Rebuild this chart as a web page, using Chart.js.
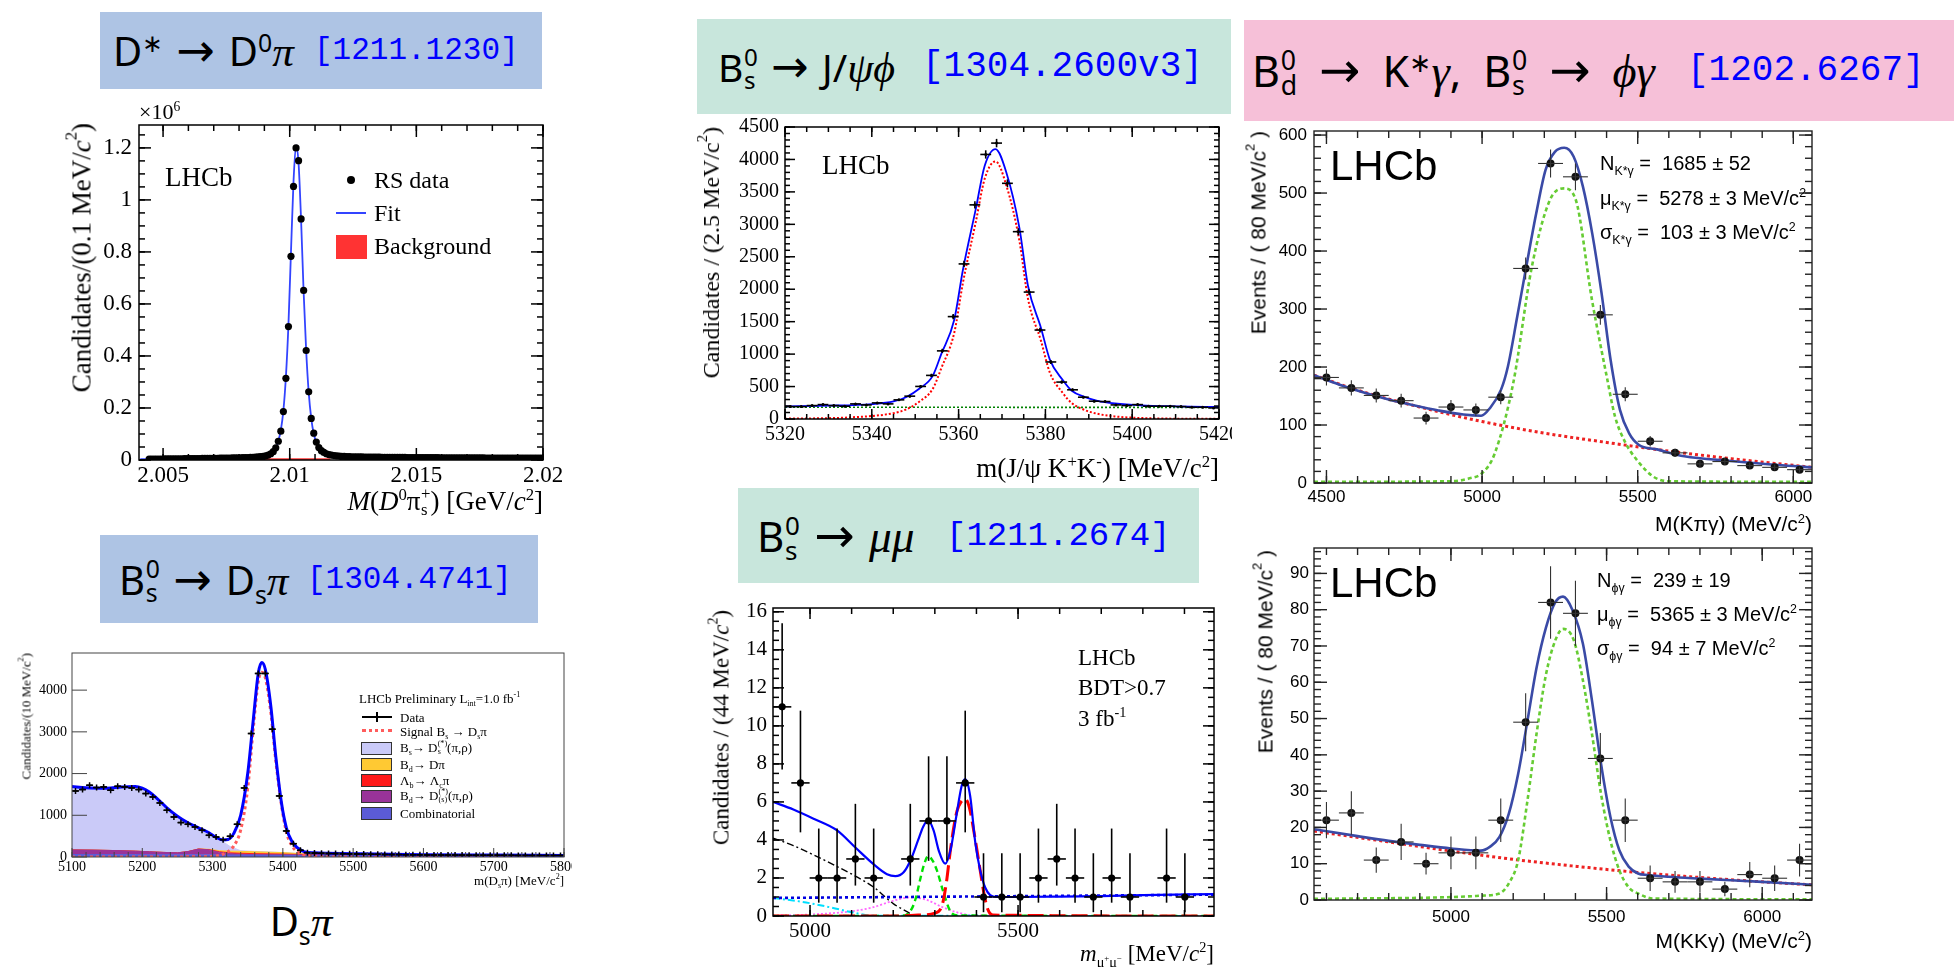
<!DOCTYPE html>
<html>
<head>
<meta charset="utf-8">
<script src="https://cdn.jsdelivr.net/npm/chart.js@4.4.0/dist/chart.umd.min.js"></script>
<style>
  body { margin: 0; background: #fff; }
  #page { position: relative; width: 1954px; height: 967px; overflow: hidden; font-family: 'Liberation Serif', serif; }
  canvas { position: absolute; }
  .tb { position: absolute; }
  .tb > span { position: absolute; top: 0; bottom: 0; display: flex; align-items: center; }
  .tb > span > span { display: block; white-space: pre; }
  .tm { font-family: 'Noto Sans', 'DejaVu Sans', sans-serif; color: #000; word-spacing: 0.08em; }
  .tr { font-family: 'Liberation Mono', monospace; color: #0000ff; }
  .gk { font-family: 'Liberation Serif', 'DejaVu Serif', serif; font-style: italic; font-size: 1.08em; }
  .ar { font-family: 'DejaVu Sans', sans-serif; font-size: 1.15em; line-height: 0; }
  .ss { display: inline-flex; flex-direction: column; font-size: 0.62em; line-height: 0.95; vertical-align: 0.65em; margin-left: 0.03em; }
  .t { position: absolute; white-space: nowrap; line-height: 1; }
  .vt { writing-mode: vertical-rl; }
  sup, sub { font-size: 0.62em; line-height: 0; }
  .sym { position: absolute; }
</style>
</head>
<body>
<div id="page">
  <div class="tb" style="left:100px;top:12px;width:442px;height:77px;background:#aec4e4">
    <span class="tm" style="left:13px;font-size:40px"><span>D<sup>∗</sup> <span class="ar">→</span> D<sup>0</sup><span class="gk">π</span></span></span>
    <span class="tr" style="left:214px;font-size:31px"><span>[1211.1230]</span></span>
  </div>
  <div class="tb" style="left:100px;top:535px;width:438px;height:88px;background:#aec4e4">
    <span class="tm" style="left:19px;font-size:40px"><span>B<span class="ss"><span>0</span><span>s</span></span> <span class="ar">→</span> D<sub>s</sub><span class="gk">π</span></span></span>
    <span class="tr" style="left:207px;font-size:31px"><span>[1304.4741]</span></span>
  </div>
  <div class="tb" style="left:697px;top:19px;width:534px;height:95px;background:#c8e6dc">
    <span class="tm" style="left:21px;font-size:39px"><span>B<span class="ss"><span>0</span><span>s</span></span> <span class="ar">→</span> J/<span class="gk">ψϕ</span></span></span>
    <span class="tr" style="left:225px;font-size:36px"><span>[1304.2600v3]</span></span>
  </div>
  <div class="tb" style="left:738px;top:488px;width:461px;height:95px;background:#c8e6dc">
    <span class="tm" style="left:19px;font-size:42px"><span>B<span class="ss"><span>0</span><span>s</span></span> <span class="ar">→</span> <span class="gk">μμ</span></span></span>
    <span class="tr" style="left:208px;font-size:34px"><span>[1211.2674]</span></span>
  </div>
  <div class="tb" style="left:1244px;top:20px;width:710px;height:101px;background:#f6c0d8">
    <span class="tm" style="left:8px;font-size:43px;word-spacing:0.25em"><span>B<span class="ss"><span>0</span><span>d</span></span> <span class="ar">→</span> K<sup>∗</sup><span class="gk">γ</span>, B<span class="ss"><span>0</span><span>s</span></span> <span class="ar">→</span> <span class="gk">ϕγ</span></span></span>
    <span class="tr" style="left:443px;font-size:36px"><span>[1202.6267]</span></span>
  </div>

  <canvas id="dstar"></canvas>
  <canvas id="dspi"></canvas>
  <canvas id="jpsiphi"></canvas>
  <canvas id="mumu"></canvas>
  <canvas id="kstgamma"></canvas>
  <canvas id="phigamma"></canvas>
</div>

<script>
// ---------- D* -> D0 pi (0.1 MeV bins, units of 10^6) ----------
const dstarBinLo = 2.0044;
const dstarBinWidth = 0.0001;
const dstarCounts = [
  0.003, 0.003, 0.003, 0.003, 0.003, 0.003, 0.004, 0.004, 0.004, 0.004,
  0.004, 0.004, 0.004, 0.004, 0.005, 0.005, 0.005, 0.005, 0.005, 0.005,
  0.005, 0.006, 0.006, 0.006, 0.006, 0.006, 0.006, 0.006, 0.007, 0.007,
  0.007, 0.007, 0.007, 0.008, 0.008, 0.008, 0.008, 0.009, 0.009, 0.009,
  0.010,
  0.010, 0.011, 0.012, 0.013, 0.014, 0.016, 0.019, 0.024, 0.032, 0.047,
  0.072, 0.111, 0.186, 0.314, 0.513, 0.783, 1.052, 1.200, 1.151, 0.927,
  0.652, 0.421, 0.262, 0.160, 0.103, 0.069,
  0.048, 0.036, 0.029, 0.024, 0.021, 0.019, 0.017, 0.016, 0.015, 0.014,
  0.014, 0.013, 0.013, 0.012,
  0.012, 0.012, 0.012, 0.012, 0.011, 0.011, 0.011, 0.011, 0.011, 0.011,
  0.011, 0.010, 0.010, 0.010, 0.010, 0.010, 0.010, 0.010, 0.010, 0.010,
  0.010, 0.009, 0.009, 0.009, 0.009, 0.009, 0.009, 0.009, 0.009, 0.009,
  0.009, 0.009, 0.009, 0.009, 0.008, 0.008, 0.008, 0.008, 0.008, 0.008,
  0.008, 0.008, 0.008, 0.008, 0.008, 0.008, 0.008, 0.008, 0.008, 0.008,
  0.008, 0.008, 0.007, 0.007, 0.007, 0.007, 0.007, 0.007, 0.007, 0.007,
  0.007, 0.007, 0.007, 0.007, 0.007, 0.007, 0.007, 0.007, 0.007, 0.007,
  0.007, 0.007, 0.007, 0.007, 0.007
];
const dstarFitMass = [2.0041, 2.006, 2.008, 2.0088, 2.0092, 2.0094, 2.00955, 2.00965, 2.00975, 2.00985, 2.00995, 2.01005, 2.01015, 2.01025, 2.01035, 2.01045, 2.01055, 2.01065, 2.01075, 2.01085, 2.01095, 2.01105, 2.0112, 2.0115, 2.012, 2.014, 2.017, 2.02];
const dstarFitValue = [0.003, 0.005, 0.008, 0.011, 0.02, 0.034, 0.073, 0.115, 0.19, 0.32, 0.52, 0.80, 1.07, 1.21, 1.14, 0.92, 0.645, 0.42, 0.26, 0.16, 0.10, 0.068, 0.042, 0.022, 0.014, 0.010, 0.008, 0.007];
const dstarBkgMass = [2.009, 2.0116];
const dstarBkgValue = [0.002, 0.002];
const dstarXTicks = [2.005, 2.01, 2.015, 2.02];
const dstarYTicks = [0, 0.2, 0.4, 0.6, 0.8, 1, 1.2];

// ---------- Bs -> Ds pi (10 MeV bins) ----------
const dsBinLo = 5100;
const dsBinWidth = 10;
const dsCounts = [
  1584, 1616, 1720, 1664, 1680, 1600, 1696, 1680, 1656, 1616,
  1520, 1440, 1296, 1120, 960, 824, 784, 720, 640, 520,
  480, 416, 496, 784, 1656, 2960, 4400, 4400, 3064, 1464,
  624, 320, 160, 104,
  95, 90, 85, 82, 80, 75, 72, 70, 66, 64, 60, 58, 57, 55, 54, 52, 50, 50,
  48, 47, 46, 45, 44, 44, 42, 42, 40, 40, 39, 38, 38, 37, 36, 36, 35, 35
];
const dsFitMass = [5100, 5120, 5150, 5170, 5190, 5200, 5210, 5220, 5235, 5250, 5265, 5280, 5295, 5305, 5315, 5322, 5330, 5340, 5350, 5358, 5365, 5370, 5375, 5383, 5390, 5398, 5405, 5412, 5420, 5430, 5445, 5500, 5600, 5700, 5800];
const dsFitValue = [1690, 1660, 1650, 1680, 1690, 1650, 1560, 1420, 1180, 980, 820, 700, 580, 470, 410, 420, 560, 1000, 2000, 3300, 4400, 4660, 4500, 3600, 2400, 1300, 700, 400, 230, 130, 100, 80, 55, 45, 38];
const dsSigMass = [5100, 5290, 5310, 5320, 5330, 5340, 5350, 5358, 5365, 5370, 5375, 5383, 5390, 5398, 5405, 5412, 5420, 5430, 5445, 5480, 5800];
const dsSigValue = [0, 5, 40, 110, 260, 650, 1650, 3100, 4200, 4430, 4300, 3450, 2300, 1250, 600, 300, 130, 50, 10, 2, 0];
// stacked background components (cumulative tops)
const dsCompMass = [5100, 5130, 5160, 5190, 5210, 5230, 5250, 5265, 5280, 5295, 5310, 5325, 5340, 5360, 5380, 5400, 5430, 5460, 5500, 5600, 5700, 5800];
const dsCombTop = [60, 59, 58, 57, 56, 55, 54, 53, 52, 51, 50, 49, 48, 47, 46, 45, 43, 41, 39, 35, 32, 30];
const dsBdDsTop = [170, 165, 155, 140, 125, 110, 100, 130, 190, 170, 110, 80, 65, 55, 50, 47, 43, 41, 39, 35, 32, 30];
const dsLbTop = [170, 165, 155, 140, 125, 110, 100, 130, 192, 176, 125, 100, 90, 80, 75, 70, 58, 48, 41, 35, 32, 30];
const dsBdDpiTop = [170, 165, 155, 140, 125, 110, 100, 130, 194, 185, 150, 140, 135, 125, 115, 105, 75, 55, 43, 35, 32, 30];
const dsBsDsTop = [1650, 1645, 1640, 1660, 1540, 1250, 960, 810, 690, 570, 420, 250, 150, 135, 120, 108, 76, 56, 43, 35, 32, 30];
const dsXTicks = [5100, 5200, 5300, 5400, 5500, 5600, 5700, 5800];
const dsYTicks = [0, 1000, 2000, 3000, 4000];

// ---------- Bs -> J/psi phi (2.5 MeV bins) ----------
const jpsiBinLo = 5320;
const jpsiBinWidth = 2.5;
const jpsiCounts = [191, 191, 207, 222, 207, 197, 233, 217, 248, 233, 295, 352, 502, 672, 1050, 1578, 2390, 3300, 4077, 4252, 3632, 2887, 1956, 1371, 879, 569, 450, 336, 274, 269, 217, 207, 222, 197, 197, 197, 191, 181, 181, 171];
const jpsiErr = [14, 14, 14, 15, 14, 14, 15, 15, 16, 15, 17, 19, 22, 26, 32, 40, 49, 57, 64, 65, 60, 54, 44, 37, 30, 24, 21, 18, 17, 16, 15, 14, 15, 14, 14, 14, 14, 13, 13, 13];
const jpsiFitMass = [5320, 5330, 5340, 5345, 5348, 5351, 5354, 5356, 5359, 5361, 5364, 5366, 5368.5, 5371, 5374, 5376, 5379, 5381, 5384, 5386, 5389, 5392, 5396, 5402, 5410, 5420];
const jpsiFitValue = [195, 205, 230, 270, 340, 470, 660, 1000, 1530, 2300, 3250, 3900, 4160, 3800, 2950, 2050, 1400, 920, 600, 440, 340, 280, 240, 210, 195, 185];
const jpsiSigMass = [5320, 5335, 5345, 5348, 5351, 5354, 5356, 5359, 5361, 5364, 5366, 5368.5, 5371, 5374, 5376, 5379, 5381, 5384, 5386, 5389, 5392, 5396, 5402, 5410, 5420];
const jpsiSigValue = [5, 25, 90, 150, 270, 460, 780, 1330, 2100, 3050, 3700, 3970, 3600, 2750, 1850, 1200, 720, 400, 250, 140, 80, 40, 15, 5, 2];
const jpsiBkgMass = [5320, 5420];
const jpsiBkgValue = [182, 178];
const jpsiXTicks = [5320, 5340, 5360, 5380, 5400, 5420];
const jpsiYTicks = [0, 500, 1000, 1500, 2000, 2500, 3000, 3500, 4000, 4500];

// ---------- Bs -> mu mu (44 MeV bins) ----------
const mumuMass = [4933, 4977, 5021, 5065, 5109, 5153, 5241, 5285, 5329, 5373, 5417, 5461, 5505, 5549, 5593, 5637, 5681, 5725, 5769, 5857, 5901];
const mumuCounts = [11, 7, 2, 2, 3, 2, 3, 5, 5, 7, 1, 1, 1, 2, 3, 2, 1, 2, 1, 2, 1];
const mumuErrLo = [3.3, 2.6, 1.3, 1.3, 1.4, 1.3, 1.4, 2.1, 2.1, 2.6, 0.8, 0.8, 0.8, 1.3, 1.4, 1.3, 0.8, 1.3, 0.8, 1.3, 0.8];
const mumuErrHi = [4.4, 3.8, 2.6, 2.6, 2.9, 2.6, 2.9, 3.4, 3.4, 3.8, 2.3, 2.3, 2.3, 2.6, 2.9, 2.6, 2.3, 2.6, 2.3, 2.6, 2.3];
const mumuFitMass = [4911, 4960, 5010, 5065, 5109, 5154, 5185, 5205, 5225, 5243, 5260, 5272, 5284, 5297, 5310, 5325, 5338, 5352, 5364, 5373, 5385, 5397, 5409, 5421, 5433, 5450, 5500, 5600, 5700, 5800, 5971];
const mumuFitValue = [6.0, 5.6, 5.1, 4.5, 3.6, 2.7, 2.2, 2.1, 2.3, 3.0, 4.0, 4.7, 5.05, 4.5, 3.4, 2.75, 3.5, 5.3, 6.8, 7.2, 6.3, 3.9, 2.4, 1.5, 1.1, 1.0, 1.0, 1.02, 1.05, 1.1, 1.15];
const mumuBsMass = [4911, 5200, 5260, 5300, 5318, 5328, 5337, 5345, 5353, 5363, 5373, 5383, 5395, 5409, 5418, 5427, 5440, 5971];
const mumuBsValue = [0, 0, 0.05, 0.15, 0.6, 1.8, 3.4, 4.6, 5.5, 6.0, 6.15, 5.7, 4.3, 2.4, 1.2, 0.37, 0.05, 0];
const mumuBdMass = [4911, 5200, 5230, 5245, 5255, 5264, 5274, 5284, 5295, 5305, 5320, 5337, 5355, 5971];
const mumuBdValue = [0, 0, 0.05, 0.4, 1.0, 1.85, 2.7, 3.15, 2.9, 2.4, 1.3, 0.26, 0.03, 0];
const mumuCombMass = [4911, 5971];
const mumuCombValue = [0.95, 1.12];
const mumuMisMass = [4911, 4960, 5010, 5065, 5109, 5154, 5200, 5235, 5250];
const mumuMisValue = [4.1, 3.7, 3.2, 2.6, 2.1, 1.5, 0.65, 0.2, 0];
const mumuSlMass = [4911, 4980, 5050, 5100, 5150, 5971];
const mumuSlValue = [0.95, 0.75, 0.45, 0.2, 0.02, 0];
const mumuPkMass = [4911, 5000, 5100, 5150, 5200, 5240, 5280, 5320, 5360, 5400, 5971];
const mumuPkValue = [0.03, 0.08, 0.25, 0.45, 0.8, 0.98, 0.85, 0.45, 0.15, 0.03, 0];
const mumuXTicks = [5000, 5500];
const mumuYTicks = [0, 2, 4, 6, 8, 10, 12, 14, 16];

// ---------- Bd -> K* gamma (80 MeV bins) ----------
const kstBinLo = 4460;
const kstBinWidth = 80;
const kstCounts = [182, 164, 151, 142, 112, 131, 126, 148, 370, 551, 528, 290, 153, 72, 52, 33, 37, 30, 27, 23];
const kstErr = [14, 13, 12, 12, 11, 12, 11, 12, 19, 24, 23, 17, 12, 9, 7, 6, 6, 5.5, 5, 5];
const kstFitMass = [4460, 4540, 4620, 4700, 4780, 4860, 4940, 4997, 5025, 5061, 5083, 5113, 5144, 5174, 5204, 5234, 5264, 5294, 5324, 5354, 5384, 5413, 5443, 5473, 5503, 5562, 5650, 5800, 5950, 6060];
const kstFitValue = [186, 170, 156, 144, 134, 125, 118, 116, 129, 161, 201, 287, 379, 465, 540, 571, 578, 563, 511, 430, 327, 212, 126, 85, 66, 58, 46, 38, 31, 27];
const kstBkgMass = [4460, 4600, 4800, 5000, 5200, 5400, 5600, 5800, 6060];
const kstBkgValue = [186, 160, 131, 106, 86, 70, 55, 42, 27];
const kstSigMass = [4460, 4900, 4960, 5000, 5040, 5100, 5160, 5218, 5263, 5300, 5353, 5400, 5427, 5460, 5500, 5550, 5600, 6060];
const kstSigValue = [2, 3, 8, 17, 50, 172, 373, 488, 508, 490, 316, 185, 115, 70, 38, 11, 3, 2];
const kstXTicks = [4500, 5000, 5500, 6000];
const kstYTicks = [0, 100, 200, 300, 400, 500, 600];

// ---------- Bs -> phi gamma (80 MeV bins) ----------
const phiBinLo = 4560;
const phiBinWidth = 80;
const phiCounts = [22, 24, 11, 16, 10, 13, 13, 22, 49, 82, 79, 39, 22, 6, 5, 5, 3, 7, 6, 11];
const phiErr = [5, 6, 3.5, 5, 3, 4.5, 4.5, 6, 8, 10, 9, 7, 6, 3.5, 3, 3, 2, 3.5, 3.5, 4.5];
const phiFitMass = [4560, 4700, 4800, 4900, 5000, 5096, 5126, 5156, 5186, 5216, 5246, 5275, 5305, 5335, 5360, 5390, 5424, 5453, 5482, 5512, 5541, 5571, 5601, 5632, 5700, 5800, 6000, 6160];
const phiFitValue = [19.5, 17.6, 16.3, 15.2, 14.2, 13.6, 14.7, 17.4, 23.8, 34.8, 49.5, 64, 75, 82, 83.6, 80, 70.6, 55, 37.6, 23, 13.7, 9.2, 7.3, 6.9, 6.4, 5.9, 5, 4.2];
const phiBkgMass = [4560, 4800, 5000, 5200, 5400, 5600, 5800, 6000, 6160];
const phiBkgValue = [19, 16, 13.5, 11.2, 9.3, 7.6, 6.2, 5, 4.2];
const phiSigMass = [4560, 5000, 5100, 5156, 5186, 5216, 5246, 5275, 5305, 5335, 5360, 5395, 5424, 5453, 5482, 5512, 5541, 5571, 5601, 5650, 6160];
const phiSigValue = [0.3, 0.8, 1.2, 1.8, 4.6, 11, 27.5, 45.8, 62, 71.5, 74.7, 71.5, 60.5, 45.8, 29.3, 16.5, 8.2, 3.5, 1.8, 0.4, 0.2];
const phiXTicks = [5000, 5500, 6000];
const phiYTicks = [0, 10, 20, 30, 40, 50, 60, 70, 80, 90];

// ---------- helpers ----------
function line(ctx, x1, y1, x2, y2) {
  ctx.beginPath(); ctx.moveTo(x1, y1); ctx.lineTo(x2, y2); ctx.stroke();
}

// ROOT style frame with ticks pointing inwards
const rootFrame = {
  id: 'rootFrame',
  afterDatasetsDraw(chart, args, o) {
    const { ctx, chartArea: a, scales } = chart;
    ctx.save();
    ctx.strokeStyle = o.color || '#000';
    ctx.lineWidth = o.lw || 1.5;
    ['x', 'y'].forEach(k => {
      const s = scales[k], t = o[k];
      if (!t) return;
      const mark = (v, len) => {
        const p = s.getPixelForValue(v);
        if (k === 'x') {
          if (t.sides.includes('b')) line(ctx, p, a.bottom, p, a.bottom - len);
          if (t.sides.includes('t')) line(ctx, p, a.top, p, a.top + len);
        } else {
          if (t.sides.includes('l')) line(ctx, a.left, p, a.left + len, p);
          if (t.sides.includes('r')) line(ctx, a.right, p, a.right - len, p);
        }
      };
      s.ticks.forEach(tk => mark(tk.value, t.major));
      if (t.step) {
        const first = Math.ceil(s.min / t.step - 1e-6);
        for (let n = first; n * t.step <= s.max + 1e-9; n++) mark(n * t.step, t.minor);
      }
    });
    ctx.strokeRect(a.left, a.top, a.right - a.left, a.bottom - a.top);
    ctx.restore();
  }
};

const errorBars = {
  id: 'errorBars',
  afterDatasetsDraw(chart) {
    const { ctx, chartArea: a, scales: { x, y } } = chart;
    ctx.save();
    ctx.beginPath();
    ctx.rect(a.left, a.top, a.right - a.left, a.bottom - a.top);
    ctx.clip();
    chart.data.datasets.forEach(ds => {
      const e = ds.errorBars;
      if (!e) return;
      ctx.strokeStyle = e.color;
      ctx.lineWidth = e.width;
      ds.data.forEach((p, i) => {
        const px = x.getPixelForValue(p.x), py = y.getPixelForValue(p.y);
        if (e.xerr) line(ctx, x.getPixelForValue(p.x - e.xerr), py, x.getPixelForValue(p.x + e.xerr), py);
        if (e.lo) line(ctx, px, y.getPixelForValue(p.y - e.lo[i]), px, y.getPixelForValue(p.y + e.hi[i]));
      });
    });
    ctx.restore();
  }
};

const pts = (xs, ys) => xs.map((x, i) => ({ x, y: ys[i] }));
const binPts = (lo, w, ys) => ys.map((y, i) => ({ x: lo + (i + 0.5) * w, y }));

function curve(xs, ys, color, width, dash, extra) {
  return Object.assign({
    data: pts(xs, ys), showLine: true, borderColor: color, borderWidth: width,
    borderDash: dash || [], pointRadius: 0, fill: false, cubicInterpolationMode: 'monotone'
  }, extra || {});
}
function dots(data, color, r, extra) {
  return Object.assign({
    data, showLine: false, pointRadius: r, pointBackgroundColor: color,
    pointBorderColor: color, pointBorderWidth: 0
  }, extra || {});
}
function area(xs, ys, color, fill) {
  return {
    data: pts(xs, ys), showLine: true, borderColor: color, backgroundColor: color,
    borderWidth: 1, pointRadius: 0, fill: fill, tension: 0
  };
}

function axis(min, max, ticks, font, pad, size, horizontal) {
  return {
    type: 'linear', min, max,
    grid: { display: false, drawTicks: false },
    border: { display: false },
    afterBuildTicks: a => { a.ticks = ticks.map(v => ({ value: v })); },
    afterFit: a => {
      if (horizontal) { a.height = size; a.paddingLeft = 0; a.paddingRight = 0; }
      else { a.width = size; a.paddingTop = 0; a.paddingBottom = 0; }
    },
    ticks: {
      font, color: '#000', padding: pad, maxRotation: 0, autoSkip: false,
      callback: v => String(+v.toFixed(6))
    }
  };
}

function makeChart(id, g, o) {
  const c = document.getElementById(id);
  c.width = g.R - g.L + g.ml + g.mr;
  c.height = g.B - g.T + g.mt + g.mb;
  c.style.left = (g.L - g.ml) + 'px';
  c.style.top = (g.T - g.mt) + 'px';
  return new Chart(c, {
    type: 'scatter',
    data: { datasets: o.datasets },
    plugins: [errorBars, rootFrame],
    options: {
      responsive: false, animation: false, events: [],
      layout: { padding: { left: 0, top: g.mt, right: g.mr, bottom: 0 } },
      plugins: { legend: { display: false }, tooltip: { enabled: false }, rootFrame: o.frame },
      scales: {
        x: axis(o.x[0], o.x[1], o.xTicks, o.font, o.xPad, g.mb, true),
        y: axis(o.y[0], o.y[1], o.yTicks, o.font, o.yPad, g.ml, false)
      }
    }
  });
}

const page = document.getElementById('page');
function txt(html, x, y, css, anchor) {
  const d = document.createElement('div');
  d.className = 't';
  d.innerHTML = html;
  Object.assign(d.style, css || {});
  d.style.left = x + 'px';
  d.style.top = y + 'px';
  const tx = anchor === 'r' ? '-100%' : anchor === 'c' ? '-50%' : '0';
  d.style.transform = 'translate(' + tx + ', -50%)';
  page.appendChild(d);
  return d;
}
function vtxt(html, cx, top, css) {
  const d = document.createElement('div');
  d.className = 't vt';
  d.innerHTML = html;
  Object.assign(d.style, css || {});
  d.style.left = cx + 'px';
  d.style.top = top + 'px';
  d.style.transform = 'translateX(-50%) rotate(180deg)';
  page.appendChild(d);
}
function sym(x, y, w, h, css) {
  const d = document.createElement('div');
  d.className = 'sym';
  Object.assign(d.style, { left: x + 'px', top: y + 'px', width: w + 'px', height: h + 'px' }, css || {});
  page.appendChild(d);
}

const times = s => ({ family: 'Liberation Serif', size: s });
const helv = s => ({ family: 'Liberation Sans', size: s });
const sansCss = (s) => ({ fontSize: s + 'px', fontFamily: "'Liberation Sans', sans-serif" });

// ---------- panel: D* -> D0 pi ----------
makeChart('dstar', { L: 139, T: 125, R: 543, B: 460, ml: 74, mt: 25, mr: 30, mb: 40 }, {
  x: [2.00405, 2.02], y: [0, 1.288], xTicks: dstarXTicks, yTicks: dstarYTicks,
  font: times(23), xPad: 2, yPad: 7,
  frame: { lw: 1.5, x: { sides: 'bt', major: 12, minor: 6, step: 0.001 }, y: { sides: 'lr', major: 12, minor: 6, step: 0.05 } },
  datasets: [
    dots(binPts(dstarBinLo, dstarBinWidth, dstarCounts), '#000', 3.6),
    curve(dstarFitMass, dstarFitValue, '#3344ff', 1.8),
    curve(dstarBkgMass, dstarBkgValue, '#ff3333', 2.5, [], { fill: 'origin', backgroundColor: '#ff3333' })
  ]
});
txt('×10<sup>6</sup>', 139, 112, { fontSize: '22px' });
txt('LHCb', 165, 177, { fontSize: '27px' });
sym(347, 176, 8, 8, { background: '#000', borderRadius: '50%' });
txt('RS data', 374, 180, { fontSize: '24px' });
sym(336, 212, 30, 2, { background: '#3344ff' });
txt('Fit', 374, 213, { fontSize: '24px' });
sym(336, 235, 31, 24, { background: '#ff3333' });
txt('Background', 374, 246, { fontSize: '24px' });
vtxt('Candidates/(0.1 MeV/<i>c</i><sup>2</sup>)', 82, 123, { fontSize: '27px' });
txt('<i>M</i>(<i>D</i><sup>0</sup>π<span class="ss"><span>+</span><span>s</span></span>) [GeV/<i>c</i><sup>2</sup>]', 543, 502, { fontSize: '27px' }, 'r');

// ---------- panel: Bs -> Ds pi ----------
makeChart('dspi', { L: 72, T: 653, R: 564, B: 857, ml: 54, mt: 10, mr: 8, mb: 22 }, {
  x: [5100, 5800], y: [0, 4890], xTicks: dsXTicks, yTicks: dsYTicks,
  font: times(14), xPad: 2, yPad: 5,
  frame: { lw: 1, color: '#444', x: { sides: 'b', major: 9, minor: 5, step: 20 }, y: { sides: 'l', major: 15, minor: 0, step: 0 } },
  datasets: [
    dots(binPts(dsBinLo, dsBinWidth, dsCounts), '#000', 3, {
      pointStyle: 'cross', pointBorderWidth: 1.5, errorBars: { xerr: dsBinWidth / 2, color: '#000', width: 1.5 }
    }),
    curve(dsFitMass, dsFitValue, '#0000ff', 3),
    curve(dsSigMass, dsSigValue, '#ff5c5c', 3, [3, 3]),
    area(dsCompMass, dsCombTop, '#5b5bd6', 'origin'),
    area(dsCompMass, dsBdDsTop, '#993399', '-1'),
    area(dsCompMass, dsLbTop, '#ff1a1a', '-1'),
    area(dsCompMass, dsBdDpiTop, '#ffc933', '-1'),
    area(dsCompMass, dsBsDsTop, '#cacaf8', '-1')
  ]
});
vtxt('Candidates/(10 MeV/c<sup>2</sup>)', 26, 653, { fontSize: '13px' });
txt('m(D<sub>s</sub>π) [MeV/c<sup>2</sup>]', 564, 880, { fontSize: '13px' }, 'r');
txt('LHCb Preliminary L<sub>int</sub>=1.0 fb<sup>-1</sup>', 359, 698, { fontSize: '13px' });
sym(362, 716, 30, 2, { background: '#000' });
sym(376, 712, 2, 10, { background: '#000' });
txt('Data', 400, 717, { fontSize: '13px' });
sym(362, 729, 30, 0, { borderTop: '3px dotted #ff5c5c' });
txt('Signal B<sub>s</sub> → D<sub>s</sub>π', 400, 731, { fontSize: '13px' });
const dsLegend = [
  ['#cacaf8', 'B<sub>s</sub>→ D<span class="ss"><span>(*)</span><span>s</span></span>(π,ρ)', 748],
  ['#ffc933', 'B<sub>d</sub>→ Dπ', 764],
  ['#ff1a1a', 'Λ<sub>b</sub>→ Λ<sub>c</sub>π', 780],
  ['#993399', 'B<sub>d</sub>→ D<span class="ss"><span>(*)</span><span>(s)</span></span>(π,ρ)', 796],
  ['#5b5bd6', 'Combinatorial', 813]
];
dsLegend.forEach(([c, label, y]) => {
  sym(361, y - 6, 29, 11, { background: c, border: '1px solid #333' });
  txt(label, 400, y, { fontSize: '13px' });
});
txt('D<sub>s</sub><span class="gk">π</span>', 301, 922, { fontSize: '40px', fontFamily: "'Noto Sans', sans-serif" }, 'c');

// ---------- panel: Bs -> J/psi phi ----------
makeChart('jpsiphi', { L: 785, T: 127, R: 1219, B: 419, ml: 88, mt: 10, mr: 13, mb: 35 }, {
  x: [5320, 5420], y: [0, 4500], xTicks: jpsiXTicks, yTicks: jpsiYTicks,
  font: times(20), xPad: 4, yPad: 6,
  frame: { lw: 1.5, x: { sides: 'bt', major: 10, minor: 5, step: 5 }, y: { sides: 'lr', major: 10, minor: 5, step: 100 } },
  datasets: [
    dots(binPts(jpsiBinLo, jpsiBinWidth, jpsiCounts), '#000', 1.5, {
      errorBars: { xerr: jpsiBinWidth / 2, lo: jpsiErr, hi: jpsiErr, color: '#000', width: 1.6 }
    }),
    curve(jpsiFitMass, jpsiFitValue, '#0000ff', 1.8),
    curve(jpsiSigMass, jpsiSigValue, '#ff0000', 2, [2, 2]),
    curve(jpsiBkgMass, jpsiBkgValue, '#008000', 1.6, [2, 2])
  ]
});
txt('LHCb', 822, 165, { fontSize: '27px' });
vtxt('Candidates / (2.5 MeV/c<sup>2</sup>)', 711, 127, { fontSize: '24px' });
txt('m(J/ψ K<sup>+</sup>K<sup>-</sup>) [MeV/c<sup>2</sup>]', 1219, 468, { fontSize: '27px' }, 'r');

// ---------- panel: Bs -> mu mu ----------
makeChart('mumu', { L: 773, T: 608, R: 1214, B: 916, ml: 60, mt: 10, mr: 10, mb: 32 }, {
  x: [4911, 5971], y: [0, 16.2], xTicks: mumuXTicks, yTicks: mumuYTicks,
  font: times(21), xPad: 3, yPad: 6,
  frame: { lw: 1.5, x: { sides: 'bt', major: 11, minor: 6, step: 100 }, y: { sides: 'lr', major: 11, minor: 6, step: 0.5 } },
  datasets: [
    dots(pts(mumuMass, mumuCounts), '#000', 3.6, {
      errorBars: { xerr: 22, lo: mumuErrLo, hi: mumuErrHi, color: '#000', width: 1.6 }
    }),
    curve(mumuFitMass, mumuFitValue, '#0000ff', 2.2),
    curve(mumuBsMass, mumuBsValue, '#ff0000', 3, [16, 6]),
    curve(mumuBdMass, mumuBdValue, '#00e000', 2.4, [6, 4]),
    curve(mumuCombMass, mumuCombValue, '#0000e0', 2.6, [3, 3]),
    curve(mumuMisMass, mumuMisValue, '#000', 1.4, [7, 3, 2, 3]),
    curve(mumuSlMass, mumuSlValue, '#00dfff', 2, [7, 3, 2, 3]),
    curve(mumuPkMass, mumuPkValue, '#ff66ff', 1.8, [2, 2])
  ]
});
txt('LHCb', 1078, 657, { fontSize: '23px' });
txt('BDT&gt;0.7', 1078, 687, { fontSize: '23px' });
txt('3 fb<sup>-1</sup>', 1078, 718, { fontSize: '23px' });
vtxt('Candidates / (44 MeV/<i>c</i><sup>2</sup>)', 721, 610, { fontSize: '23px' });
txt('<i>m</i><sub>μ<sup>+</sup>μ<sup>−</sup></sub> [MeV/<i>c</i><sup>2</sup>]', 1214, 953, { fontSize: '23px' }, 'r');

// ---------- panel: Bd -> K* gamma ----------
makeChart('kstgamma', { L: 1314, T: 131, R: 1812, B: 483, ml: 60, mt: 10, mr: 20, mb: 30 }, {
  x: [4460, 6060], y: [0, 607], xTicks: kstXTicks, yTicks: kstYTicks,
  font: helv(17), xPad: 4, yPad: 7,
  frame: { lw: 1.4, color: '#222', x: { sides: 'bt', major: 13, minor: 7, step: 100 }, y: { sides: 'lr', major: 13, minor: 7, step: 20 } },
  datasets: [
    dots(binPts(kstBinLo, kstBinWidth, kstCounts), '#111', 4, {
      errorBars: { xerr: kstBinWidth / 2, lo: kstErr, hi: kstErr, color: '#333', width: 1.1 }
    }),
    curve(kstFitMass, kstFitValue, '#3a4aa6', 2.6),
    curve(kstSigMass, kstSigValue, '#66cc33', 2.6, [4, 3]),
    curve(kstBkgMass, kstBkgValue, '#ee2222', 3, [3, 3])
  ]
});
txt('LHCb', 1330, 166, sansCss(42));
const kstText = [
  ['N<sub>K*γ</sub> =&nbsp; 1685 ± 52', 163],
  ['μ<sub>K*γ</sub> =&nbsp; 5278 ± 3 MeV/c<sup>2</sup>', 198],
  ['σ<sub>K*γ</sub> =&nbsp; 103 ± 3 MeV/c<sup>2</sup>', 232]
];
kstText.forEach(([h, y]) => txt(h, 1600, y, sansCss(20)));
vtxt('Events / ( 80 MeV/c<sup>2</sup> )', 1258, 131, sansCss(21));
txt('M(Kπγ) (MeV/c<sup>2</sup>)', 1812, 523, sansCss(21), 'r');

// ---------- panel: Bs -> phi gamma ----------
makeChart('phigamma', { L: 1314, T: 548, R: 1812, B: 900, ml: 60, mt: 10, mr: 20, mb: 30 }, {
  x: [4560, 6160], y: [0, 97], xTicks: phiXTicks, yTicks: phiYTicks,
  font: helv(17), xPad: 7, yPad: 5,
  frame: { lw: 1.4, color: '#222', x: { sides: 'bt', major: 13, minor: 7, step: 100 }, y: { sides: 'lr', major: 13, minor: 7, step: 2 } },
  datasets: [
    dots(binPts(phiBinLo, phiBinWidth, phiCounts), '#111', 4, {
      errorBars: { xerr: phiBinWidth / 2, lo: phiErr, hi: phiErr, color: '#333', width: 1.1 }
    }),
    curve(phiFitMass, phiFitValue, '#3a4aa6', 2.6),
    curve(phiSigMass, phiSigValue, '#66cc33', 2.6, [4, 3]),
    curve(phiBkgMass, phiBkgValue, '#ee2222', 3, [3, 3])
  ]
});
txt('LHCb', 1330, 583, sansCss(42));
const phiText = [
  ['N<sub>ϕγ</sub> =&nbsp; 239 ± 19', 580],
  ['μ<sub>ϕγ</sub> =&nbsp; 5365 ± 3 MeV/c<sup>2</sup>', 614],
  ['σ<sub>ϕγ</sub> =&nbsp; 94 ± 7 MeV/c<sup>2</sup>', 648]
];
phiText.forEach(([h, y]) => txt(h, 1597, y, sansCss(20)));
vtxt('Events / ( 80 MeV/c<sup>2</sup> )', 1265, 550, sansCss(21));
txt('M(KKγ) (MeV/c<sup>2</sup>)', 1812, 940, sansCss(21), 'r');
</script>
</body>
</html>
